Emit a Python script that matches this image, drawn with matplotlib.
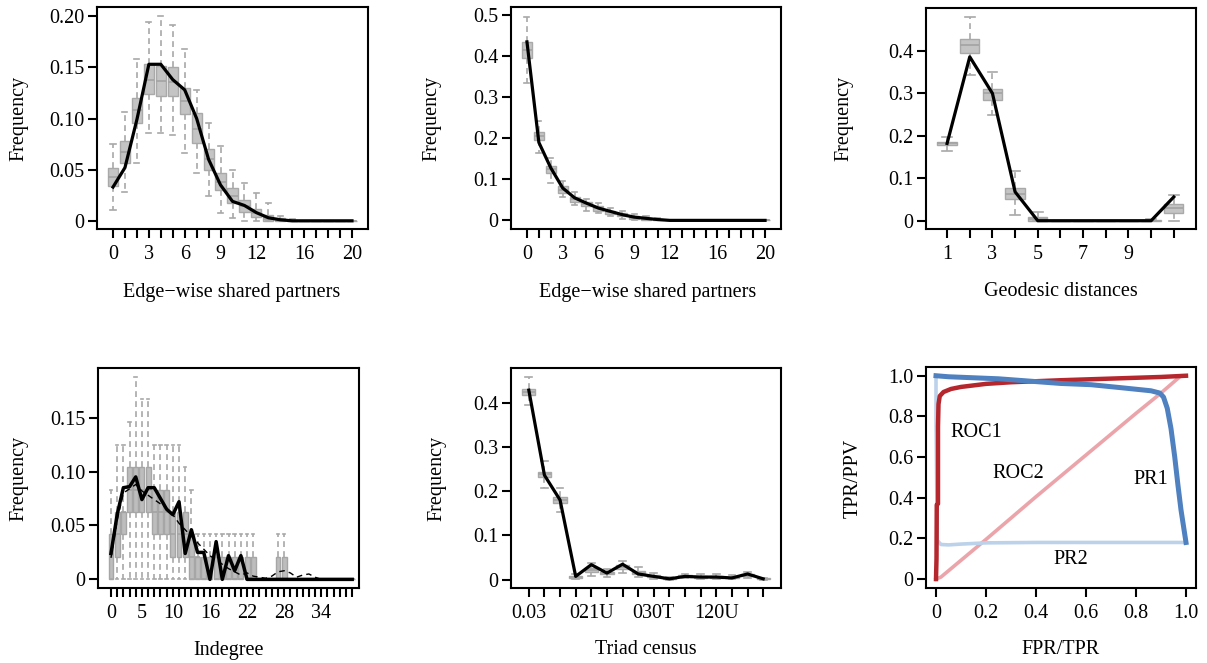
import matplotlib
matplotlib.use('Agg')
import matplotlib.pyplot as plt

plt.rcParams['font.family'] = ['Liberation Serif', 'DejaVu Serif']
FS = 14.5

# ---------------- data ----------------
# Panel 1: edge-wise shared partners (model 1)
esp1_x = list(range(21))
esp1_obs = [0.033, 0.052, 0.099, 0.153, 0.153, 0.138, 0.128, 0.100, 0.060, 0.035, 0.019,
            0.015, 0.008, 0.003, 0.001, 0, 0, 0, 0, 0, 0]
esp1_q1 = [0.034, 0.057, 0.096, 0.124, 0.122, 0.122, 0.104, 0.076, 0.050, 0.030, 0.017,
           0.009, 0.004, 0.000, 0, 0, 0, 0, 0, 0, 0]
esp1_med = [0.043, 0.067, 0.108, 0.138, 0.137, 0.136, 0.117, 0.090, 0.060, 0.038, 0.024,
            0.014, 0.008, 0.002, 0.001, 0, 0, 0, 0, 0, 0]
esp1_q3 = [0.052, 0.078, 0.120, 0.153, 0.151, 0.150, 0.130, 0.105, 0.070, 0.047, 0.032,
           0.020, 0.012, 0.006, 0.003, 0.001, 0, 0, 0, 0, 0]
esp1_lo = [0.011, 0.028, 0.057, 0.086, 0.086, 0.084, 0.066, 0.047, 0.024, 0.008, 0.003,
           0, 0, 0, 0, 0, 0, 0, 0, 0, 0]
esp1_hi = [0.075, 0.106, 0.158, 0.194, 0.200, 0.191, 0.168, 0.128, 0.096, 0.073, 0.050,
           0.037, 0.027, 0.017, 0.005, 0.002, 0, 0, 0, 0, 0]

# Panel 2: edge-wise shared partners (model 2)
esp2_x = list(range(21))
esp2_obs = [0.435, 0.190, 0.128, 0.079, 0.055, 0.042, 0.030, 0.022, 0.014, 0.008, 0.005,
            0.002, 0, 0, 0, 0, 0, 0, 0, 0, 0]
esp2_q1 = [0.396, 0.195, 0.115, 0.067, 0.044, 0.034, 0.024, 0.016, 0.010, 0.004, 0.002,
           0.001, 0, 0, 0, 0, 0, 0, 0, 0, 0]
esp2_med = [0.415, 0.205, 0.124, 0.075, 0.051, 0.040, 0.029, 0.020, 0.014, 0.007, 0.004,
            0.002, 0, 0, 0, 0, 0, 0, 0, 0, 0]
esp2_q3 = [0.434, 0.215, 0.132, 0.083, 0.058, 0.046, 0.034, 0.024, 0.018, 0.011, 0.006,
           0.003, 0.001, 0, 0, 0, 0, 0, 0, 0, 0]
esp2_lo = [0.335, 0.163, 0.091, 0.058, 0.038, 0.022, 0.018, 0.010, 0.004, 0.001, 0,
           0, 0, 0, 0, 0, 0, 0, 0, 0, 0]
esp2_hi = [0.496, 0.241, 0.152, 0.095, 0.068, 0.052, 0.042, 0.030, 0.024, 0.016, 0.010,
           0.005, 0.002, 0, 0, 0, 0, 0, 0, 0, 0]

# Panel 3: geodesic distances
gd_x = list(range(1, 12))
gd_obs = [0.182, 0.386, 0.300, 0.068, 0.0, 0, 0, 0, 0, 0, 0.056]
gd_q1 = [0.178, 0.394, 0.285, 0.050, 0.0, 0, 0, 0, 0, 0, 0.019]
gd_med = [0.182, 0.413, 0.300, 0.064, 0.003, 0, 0, 0, 0, 0, 0.029]
gd_q3 = [0.186, 0.427, 0.311, 0.076, 0.009, 0, 0, 0, 0, 0.002, 0.039]
gd_lo = [0.165, 0.343, 0.249, 0.013, 0, 0, 0, 0, 0, 0, 0]
gd_hi = [0.198, 0.480, 0.350, 0.118, 0.020, 0, 0, 0, 0, 0.003, 0.060]

# Panel 4: indegree
ind_x = list(range(40))
ind_obs = [0.024, 0.060, 0.085, 0.086, 0.095, 0.074, 0.085, 0.085, 0.075, 0.065, 0.060,
           0.072, 0.024, 0.046, 0.025, 0.025, 0.0, 0.035, 0.0, 0.022, 0.008, 0.022, 0,
           0, 0, 0, 0, 0, 0, 0, 0, 0, 0, 0, 0, 0, 0, 0, 0, 0]
ind_obs2 = [0.020, 0.055, 0.080, 0.084, 0.088, 0.082, 0.078, 0.074, 0.070, 0.066, 0.060,
            0.052, 0.046, 0.040, 0.034, 0.028, 0.022, 0.018, 0.014, 0.010, 0.007, 0.004,
            0.006, 0.003, 0.002, 0.001, 0.003, 0.007, 0.008, 0.006, 0.002, 0.004, 0.005,
            0.002, 0, 0, 0, 0, 0, 0]
ind_q1 = [0, 0.021, 0.042, 0.0625, 0.0625, 0.0625, 0.0625, 0.042, 0.042, 0.042, 0.021,
          0.021, 0.021, 0, 0, 0, 0, 0, 0, 0, 0, 0, 0, 0, 0, 0, 0, 0, 0, 0,
          0, 0, 0, 0, 0, 0, 0, 0, 0, 0]
ind_med = [0.021, 0.042, 0.0625, 0.083, 0.083, 0.083, 0.083, 0.0625, 0.0625, 0.0625, 0.042,
           0.042, 0.042, 0.021, 0.021, 0, 0, 0, 0, 0, 0, 0, 0, 0, 0, 0, 0, 0, 0, 0,
           0, 0, 0, 0, 0, 0, 0, 0, 0, 0]
ind_q3 = [0.042, 0.0625, 0.0625, 0.104, 0.104, 0.104, 0.104, 0.083, 0.083, 0.083, 0.0625,
          0.0625, 0.0625, 0.042, 0.021, 0.021, 0.021, 0.021, 0.021, 0.021, 0.021, 0.021,
          0.021, 0.021, 0, 0, 0, 0.021, 0.021, 0, 0, 0, 0, 0, 0, 0, 0, 0, 0, 0]
ind_lo = [0] * 40
ind_hi = [0.083, 0.125, 0.125, 0.146, 0.1875, 0.167, 0.167, 0.125, 0.125, 0.125, 0.125,
          0.125, 0.104, 0.083, 0.042, 0.042, 0.042, 0.042, 0.042, 0.042, 0.042, 0.042,
          0.042, 0.042, 0, 0, 0, 0.042, 0.042, 0, 0, 0, 0, 0, 0, 0, 0, 0, 0, 0]
ind_ticks = [0, 5, 10, 16, 22, 28, 34]

# Panel 5: triad census
triad_x = list(range(1, 17))
triad_labels = {1: '0.03', 5: '021U', 9: '030T', 13: '120U'}
triad_obs = [0.428, 0.236, 0.180, 0.0075, 0.034, 0.015, 0.035, 0.013, 0.0075, 0.002,
             0.0075, 0.006, 0.006, 0.004, 0.013, 0.002]
triad_q1 = [0.416, 0.233, 0.174, 0.004, 0.017, 0.012, 0.024, 0.012, 0.006, 0.002,
            0.006, 0.005, 0.005, 0.004, 0.009, 0.001]
triad_med = [0.424, 0.238, 0.180, 0.006, 0.022, 0.015, 0.029, 0.016, 0.008, 0.003,
             0.008, 0.006, 0.006, 0.005, 0.011, 0.002]
triad_q3 = [0.431, 0.244, 0.187, 0.009, 0.026, 0.018, 0.034, 0.020, 0.010, 0.004,
            0.010, 0.008, 0.008, 0.006, 0.014, 0.003]
triad_lo = [0.394, 0.206, 0.154, 0.001, 0.008, 0.006, 0.015, 0.006, 0.002, 0.0,
            0.003, 0.002, 0.002, 0.001, 0.004, 0.0]
triad_hi = [0.457, 0.268, 0.206, 0.014, 0.0375, 0.025, 0.043, 0.028, 0.016, 0.007,
            0.014, 0.012, 0.012, 0.010, 0.018, 0.005]

# Panel 6: ROC / PR curves
roc1_x = [0, 0.002, 0.003, 0.008, 0.008, 0.010, 0.015, 0.030, 0.060, 0.10, 0.20, 0.30,
          0.50, 0.70, 0.90, 1.0]
roc1_y = [0, 0.10, 0.365, 0.37, 0.75, 0.86, 0.90, 0.92, 0.935, 0.945, 0.960, 0.968,
          0.978, 0.986, 0.994, 1.0]
roc2_x = [0, 0.02, 0.20, 0.40, 0.60, 0.80, 0.90, 0.98, 1.0]
roc2_y = [0, 0.01, 0.195, 0.405, 0.61, 0.815, 0.915, 1.0, 1.0]
pr1_x = [0, 0.05, 0.25, 0.50, 0.62, 0.75, 0.86, 0.895, 0.91, 0.925, 0.94, 0.955, 0.968,
         0.98, 0.99, 1.0]
pr1_y = [1.0, 0.995, 0.985, 0.962, 0.956, 0.94, 0.926, 0.915, 0.895, 0.84, 0.74, 0.60,
         0.46, 0.34, 0.26, 0.18]
pr2_x = [0, 0, 0.005, 0.02, 0.05, 0.10, 0.20, 0.40, 0.60, 0.80, 1.0]
pr2_y = [1.0, 0.80, 0.19, 0.17, 0.168, 0.172, 0.178, 0.18, 0.18, 0.18, 0.18]
curve_labels = [('ROC1', 0.16, 0.72), ('ROC2', 0.33, 0.52), ('PR1', 0.86, 0.49),
                ('PR2', 0.54, 0.095)]

# ---------------- figure ----------------
W, H = 1207, 663
fig = plt.figure(figsize=(W / 100, H / 100), dpi=100)
fig.patch.set_facecolor('white')


def add_ax(x0, y0, x1, y1):
    ax = fig.add_axes([x0 / W, 1 - y1 / H, (x1 - x0) / W, (y1 - y0) / H])
    for s in ax.spines.values():
        s.set_linewidth(1.5)
    ax.tick_params(axis='both', direction='out', length=6.5, width=1.5,
                   labelsize=FS, colors='black')
    ax.tick_params(axis='x', pad=5)
    ax.tick_params(axis='y', pad=2.5)
    return ax


def boxes(ax, pos, q1, med, q3, lo, hi, width=0.85, face='#c4c4c4', edge='#a9a9a9'):
    stats = []
    for a, b, c, d, e in zip(q1, med, q3, lo, hi):
        stats.append(dict(q1=a, med=b, q3=c, whislo=d, whishi=e, fliers=[]))
    ax.bxp(stats, positions=pos, widths=width, patch_artist=True, showfliers=False,
           capwidths=width * 0.5, manage_ticks=False,
           boxprops=dict(facecolor=face, edgecolor=edge, linewidth=1.0),
           medianprops=dict(color='#a3a3a3', linewidth=1.2),
           whiskerprops=dict(color='#a8a8a8', linestyle=(0, (3.5, 2.5)), linewidth=1.2),
           capprops=dict(color='#a8a8a8', linewidth=1.2), zorder=2)


def ytxt(x, y, s):
    fig.text(x / W, 1 - y / H, s, rotation=90, ha='center', va='center', fontsize=FS)


def xtxt(x, y, s):
    fig.text(x / W, 1 - y / H, s, ha='center', va='center', fontsize=FS)


# Panel 1
ax = add_ax(97, 7, 368, 229)
boxes(ax, esp1_x, esp1_q1, esp1_med, esp1_q3, esp1_lo, esp1_hi)
ax.plot(esp1_x, esp1_obs, color='black', lw=2.3, zorder=3)
ax.set_xlim(-1.34, 21.34)
ax.set_ylim(-0.008, 0.209)
ax.set_xticks(esp1_x, [str(v) if v in (0, 3, 6, 9, 12, 16, 20) else '' for v in esp1_x])
ax.set_yticks([0, 0.05, 0.10, 0.15, 0.20], ['0', '0.05', '0.10', '0.15', '0.20'])
ytxt(19, 118, 'Frequency')
xtxt(232, 292, 'Edge\u2212wise shared partners')

# Panel 2
ax = add_ax(511, 7, 781, 229)
boxes(ax, esp2_x, esp2_q1, esp2_med, esp2_q3, esp2_lo, esp2_hi)
ax.plot(esp2_x, esp2_obs, color='black', lw=2.3, zorder=3)
ax.set_xlim(-1.34, 21.34)
ax.set_ylim(-0.021, 0.52)
ax.set_xticks(esp2_x, [str(v) if v in (0, 3, 6, 9, 12, 16, 20) else '' for v in esp2_x])
ax.set_yticks([0, 0.1, 0.2, 0.3, 0.4, 0.5], ['0', '0.1', '0.2', '0.3', '0.4', '0.5'])
ytxt(432, 118, 'Frequency')
xtxt(648, 292, 'Edge\u2212wise shared partners')

# Panel 3
ax = add_ax(926, 8, 1196, 229)
boxes(ax, gd_x, gd_q1, gd_med, gd_q3, gd_lo, gd_hi)
ax.plot(gd_x, gd_obs, color='black', lw=2.3, zorder=3)
ax.set_xlim(0.07, 11.98)
ax.set_ylim(-0.0195, 0.501)
ax.set_xticks(gd_x, [str(v) if v in (1, 3, 5, 7, 9) else '' for v in gd_x])
ax.set_yticks([0, 0.1, 0.2, 0.3, 0.4], ['0', '0.1', '0.2', '0.3', '0.4'])
ytxt(844, 118, 'Frequency')
xtxt(1061, 292, 'Geodesic distances')

# Panel 4
ax = add_ax(98, 368, 359, 588)
boxes(ax, ind_x, ind_q1, ind_med, ind_q3, ind_lo, ind_hi, width=0.8,
      face='#bdbdbd', edge='#a6a6a6')
ax.plot(ind_x, ind_obs2, color='black', lw=1.0, ls=(0, (4, 3)), zorder=3)
ax.plot(ind_x, ind_obs, color='black', lw=2.5, zorder=4)
ax.set_xlim(-2.1, 40.1)
ax.set_ylim(-0.008, 0.196)
ax.set_xticks(ind_x, [str(v) if v in ind_ticks else '' for v in ind_x])
ax.set_yticks([0, 0.05, 0.10, 0.15], ['0', '0.05', '0.10', '0.15'])
ytxt(19, 478, 'Frequency')
xtxt(229, 651, 'Indegree')

# Panel 5
ax = add_ax(511, 368, 781, 588)
boxes(ax, triad_x, triad_q1, triad_med, triad_q3, triad_lo, triad_hi)
ax.plot(triad_x, triad_obs, color='black', lw=2.3, zorder=3)
ax.set_xlim(-0.14, 17.14)
ax.set_ylim(-0.0187, 0.478)
ax.set_xticks(triad_x, [triad_labels.get(v, '') for v in triad_x])
ax.set_yticks([0, 0.1, 0.2, 0.3, 0.4], ['0', '0.1', '0.2', '0.3', '0.4'])
ytxt(437, 478, 'Frequency')
xtxt(646, 650, 'Triad census')

# Panel 6
ax = add_ax(926, 367, 1196, 588)
ax.plot(roc2_x, roc2_y, color='#eba5aa', lw=2.6, zorder=2)
ax.plot(pr2_x, pr2_y, color='#bcd2ea', lw=2.6, zorder=2)
ax.plot(roc1_x, roc1_y, color='#b5262d', lw=3.2, zorder=3)
ax.plot(pr1_x, pr1_y, color='#4f80bf', lw=3.6, zorder=3)
for s, x, y in curve_labels:
    ax.text(x, y, s, ha='center', va='center', fontsize=FS)
ax.set_xlim(-0.04, 1.04)
ax.set_ylim(-0.044, 1.043)
ax.set_xticks([0, 0.2, 0.4, 0.6, 0.8, 1.0], ['0', '0.2', '0.4', '0.6', '0.8', '1.0'])
ax.set_yticks([0, 0.2, 0.4, 0.6, 0.8, 1.0], ['0', '0.2', '0.4', '0.6', '0.8', '1.0'])
ytxt(853, 478, 'TPR/PPV')
xtxt(1061, 650, 'FPR/TPR')

fig.savefig('out.png', dpi=100)
